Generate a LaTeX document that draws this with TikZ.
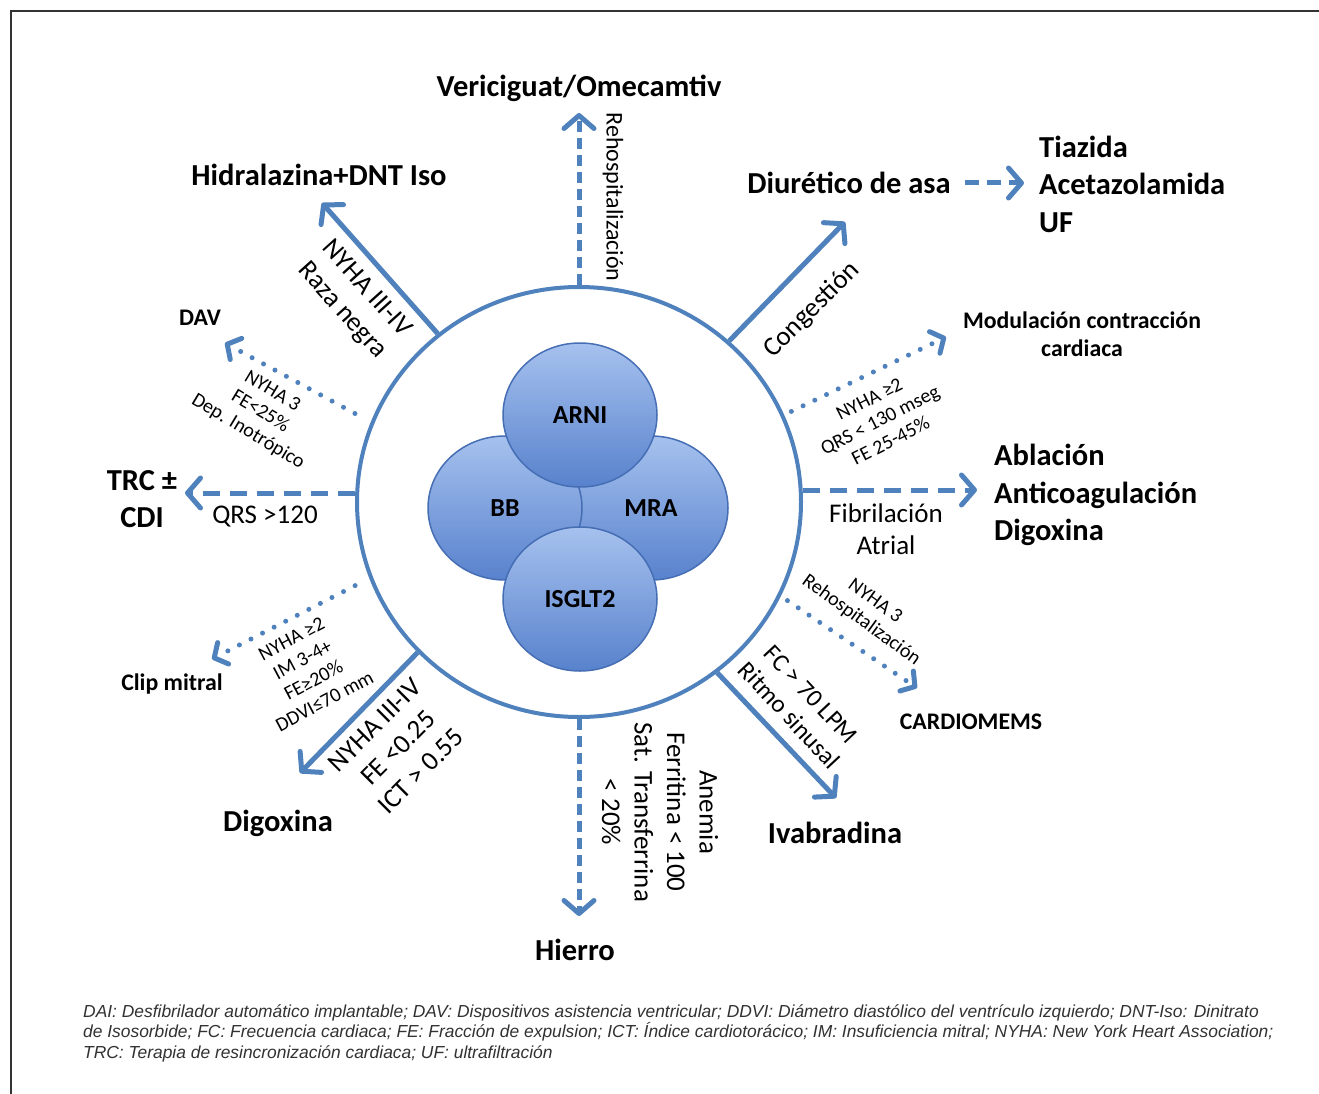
\documentclass[tikz,border=0pt]{standalone}
\usepackage{fontspec}
\setmainfont{Carlito}
\newfontfamily\footfont{Liberation Sans}
\usetikzlibrary{shapes.geometric,arrows.meta,calc}
\definecolor{arrowblue}{RGB}{79,129,189}
\definecolor{balltop}{RGB}{166,193,238}
\definecolor{ballbot}{RGB}{88,130,205}
\definecolor{ballline}{RGB}{70,110,180}
\definecolor{foottext}{RGB}{50,50,50}
\begin{document}
\begin{tikzpicture}[x=1pt,y=-1pt,
  bigbold/.style={font=\fontsize{30.5}{37.5}\selectfont\bfseries, inner sep=2pt},
  medbold/.style={font=\fontsize{23.8}{28.5}\selectfont\bfseries, inner sep=2pt},
  reglabel/.style={font=\fontsize{27}{32.5}\selectfont, align=center, inner sep=1pt},
  smalllabel/.style={font=\fontsize{20}{23.5}\selectfont, align=center, inner sep=1pt},
  conn/.style={draw=arrowblue, line width=5pt, -{Straight Barb[round,length=13pt,width=30pt]}},
  solidconn/.style={conn},
  dashconn/.style={conn, dash pattern=on 17pt off 10pt},
  vdashconn/.style={conn, dash pattern=on 11pt off 6pt},
  dotconn/.style={conn, line cap=round, dash pattern=on 0pt off 13pt, -{Straight Barb[round,length=10pt,width=24pt]}},
  ball/.style={ellipse, draw=ballline, line width=1.5pt, top color=balltop, bottom color=ballbot, minimum width=154pt, minimum height=144pt, inner sep=0pt, font=\fontsize{26}{30}\selectfont\bfseries},
  footline/.style={font=\footfont\itshape\fontsize{17.4}{20}\selectfont, text=foottext, anchor=base west, inner sep=0pt},
]
\useasboundingbox (0,0) rectangle (1319,1094);
\fill[white] (0,0) rectangle (1319,1094);
\draw[line width=2pt, draw=black!80] (11,1094) -- (11,11) -- (1319,11);

% central ring and drug balls
\node[ellipse, draw=arrowblue, line width=4pt, minimum width=444pt, minimum height=430pt, inner sep=0pt] (hub) at (579,502) {};
\node[ball] (mra) at (651,508) {MRA};
\node[ball] (bb) at (505,508) {BB};
\node[ball] (arni) at (580,415) {ARNI};
\node[ball] (isglt) at (580,599) {ISGLT2};

% arrow tips
\coordinate (tV) at (579,113);
\coordinate (tH) at (322,203);
\coordinate (tDAV) at (225,343);
\coordinate (tTRC) at (185,493);
\coordinate (tClip) at (212,659);
\coordinate (tDig) at (300,773);
\coordinate (tFe) at (579,916);
\coordinate (tIva) at (836,798);
\coordinate (tCM) at (917,688);
\coordinate (tAF) at (977,490);
\coordinate (tMod) at (946,337);
\coordinate (tDiu) at (845,222);

% connectors
\draw[vdashconn] (hub.north -| tV) -- (tV);
\draw[solidconn] (hub.130) -- (tH);
\draw[dotconn, shorten <=18pt] (hub.159) -- (tDAV);
\draw[dashconn] (hub.west |- tTRC) -- (tTRC);
\draw[dotconn, shorten <=16pt] (hub.200) -- (tClip);
\draw[solidconn] (hub.223) -- (tDig);
\draw[vdashconn] (hub.south -| tFe) -- (tFe);
\draw[solidconn] (hub.309) -- (tIva);
\draw[dotconn, shorten <=8pt] (hub.335) -- (tCM);
\draw[dashconn] (hub.east |- tAF) -- (tAF);
\draw[dotconn, shorten <=8pt] (hub.23) -- (tMod);
\draw[solidconn] (hub.47) -- (tDiu);

% labels
\node[bigbold] (lV) at (579,88) {Vericiguat/Omecamtiv};
\node[reglabel, font=\fontsize{24}{30}\selectfont, rotate=-90] (cV) at (613,197) {Rehospitalización};
\node[bigbold] (lH) at (319,175) {Hidralazina+DNT Iso};
\node[reglabel, rotate=-48] (cH) at (354,300) {NYHA III-IV\\Raza negra};
\node[medbold] (lDAV) at (200,318) {DAV};
\node[smalllabel, rotate=-31] (cDAV) at (260,412) {NYHA 3\\FE<25\%\\Dep. Inotrópico};
\node[bigbold, align=center] (lTRC) at (142,499) {TRC ±\\CDI};
\node[reglabel] (cTRC) at (265,517) {QRS >120};
\node[medbold] (lClip) at (172,684) {Clip mitral};
\node[smalllabel, rotate=28] (cClip) at (308,670) {NYHA ≥2\\IM 3-4+\\FE≥20\%\\DDVI≤70 mm};
\node[bigbold] (lDig) at (278,823) {Digoxina};
\node[reglabel, rotate=45] (cDig) at (398,748) {NYHA III-IV\\FE <0.25\\ICT > 0.55};
\node[bigbold] (lFe) at (575,950) {Hierro};
\node[reglabel, rotate=-90] (cFe) at (660,812) {Anemia\\Ferritina < 100\\Sat. Transferrina\\< 20\%};
\node[bigbold] (lIva) at (835,833) {Ivabradina};
\node[reglabel, font=\fontsize{25}{30}\selectfont, rotate=-47] (cIva) at (800,705) {FC > 70 LPM\\Ritmo sinusal};
\node[medbold] (lCM) at (971,722) {CARDIOMEMS};
\node[smalllabel, rotate=-36] (cCM) at (868,611) {NYHA 3\\Rehospitalización};
\node[bigbold, align=left, anchor=west] (lAF) at (992,495) {Ablación\\Anticoagulación\\Digoxina};
\node[reglabel] (cAF) at (886,529) {Fibrilación\\Atrial};
\node[medbold, align=center] (lMod) at (1082,334) {Modulación contracción\\cardiaca};
\node[smalllabel, rotate=27] (cMod) at (880,420) {NYHA ≥2\\QRS < 130 mseg\\FE 25-45\%};
\node[bigbold] (lDiu) at (849,183) {Diurético de asa};
\node[reglabel, rotate=45] (cDiu) at (812,310) {Congestión};
\node[bigbold, align=left, anchor=west] (lT) at (1037,184) {Tiazida\\Acetazolamida\\UF};
\draw[conn, dash pattern=on 14pt off 8pt, shorten <=12pt, shorten >=13pt] (lDiu.east) -- (lDiu.east -| lT.west);

% footnote
\node[footline] (f1) at (83,1017) {DAI: Desfibrilador automático implantable; DAV: Dispositivos asistencia ventricular; DDVI: Diámetro diastólico del ventrículo izquierdo; DNT-Iso: Dinitrato};
\node[footline] (f2) at (83,1037.5) {de Isosorbide; FC: Frecuencia cardiaca; FE: Fracción de expulsion; ICT: Índice cardiotorácico; IM: Insuficiencia mitral; NYHA: New York Heart Association;};
\node[footline] (f3) at (83,1058) {TRC: Terapia de resincronización cardiaca; UF: ultrafiltración};
\end{tikzpicture}
\end{document}
